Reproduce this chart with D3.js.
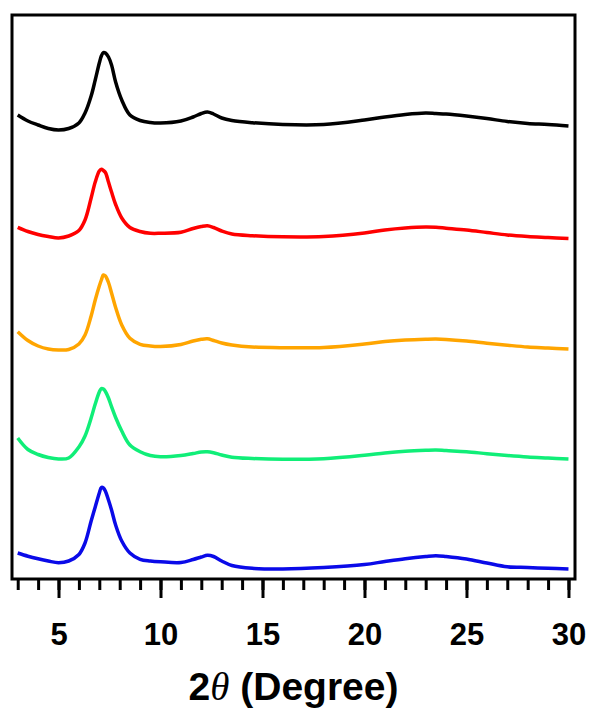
<!DOCTYPE html>
<html lang="en">
<head>
    <meta charset="UTF-8">
    <title>XRD patterns</title>
    <script src="https://d3js.org/d3.v7.min.js"></script>
    <style>
        body { margin: 0; background: #fff; }
        .tick-label { font-family: "Liberation Sans", Arial, sans-serif; font-weight: bold; font-size: 31px; }
        .axis-title { font-family: "Liberation Sans", Arial, sans-serif; font-weight: bold; font-size: 39px; }
    </style>
</head>
<body>
    <svg width="595" height="713"></svg>
    <script>
        // 2theta positions (degrees) shared by all patterns
        const twoTheta = [3, 3.5, 4, 4.5, 5, 5.5, 6, 6.3, 6.6, 6.8, 7.0, 7.1, 7.2, 7.3, 7.45, 7.6, 7.8, 8.1, 8.5, 9, 9.5, 10,
            11, 11.6, 12.0, 12.3, 12.6, 13, 13.5, 14.5, 16, 18, 20, 21, 22, 23, 23.5, 24, 25, 26, 27, 28, 29, 30];

        // intensities (a.u.), top to bottom
        const black = [11, 5, 1, -2.5, -4, -2.5, 3, 13, 30, 46, 63, 70, 73.5, 73, 69, 61, 44, 26, 11, 5.5, 3.5, 3,
            5, 9, 12.5, 14, 12, 8, 5.5, 3.3, 1.5, 1.5, 6, 9, 11.5, 13, 12.5, 12, 10, 7.5, 4.5, 2.5, 1.5, 0];
        const red = [11.2, 7, 4, 2, 0.5, 2.5, 8, 18.5, 40.5, 56.5, 67.5, 69.2, 68, 66, 56.5, 46.5, 34, 20.5, 11, 7, 5.2, 5.2,
            6.2, 10, 12, 12.8, 11, 7.5, 4.5, 2.8, 1.7, 2, 5.5, 8.5, 10.5, 11.5, 11.2, 10.3, 8.5, 6, 3.5, 2, 1, 0];
        const orange = [17.3, 8.5, 3, 0, -1, -0.5, 5, 14, 33, 49, 63, 69, 74, 73, 66.5, 56, 41.5, 24, 10.7, 4.7, 3, 2.5,
            4.5, 8, 9.7, 10.2, 8.5, 6, 4, 2, 1.3, 1.5, 5, 7.5, 9, 9.8, 10, 9.6, 8, 5.8, 3.8, 2, 1, 0];
        const green = [21, 9.5, 4.5, 1.5, 0, 1, 12, 23, 41, 55, 67, 70.5, 70, 67.5, 61, 52.3, 41.5, 28, 14, 7.3, 3.5, 2.3,
            3.5, 5.5, 7, 7.2, 6.2, 4, 1.8, 0.5, -0.3, 0.3, 3.7, 6, 7.7, 8.7, 9, 8.4, 7.3, 5.3, 3.5, 2, 1, 0];
        const blue = [16, 12.8, 10.2, 8, 6.3, 8, 14.5, 26, 48, 62, 76, 81.5, 81, 77.7, 69, 59, 44, 28, 16, 9.7, 8, 7.2,
            6.5, 9.5, 12, 13.7, 12.5, 8, 3.5, 0.7, 0, 1.5, 4.5, 7.5, 10.3, 12.5, 13.3, 12.5, 10, 6, 2.2, 1.5, 0.7, 0];

        const offsets = [453, 340.5, 230, 120, 10];
        const colors = ["#000000", "#ff0000", "#ffa500", "#10ee78", "#0a0ae8"];
        const patterns = [black, red, orange, green, blue];

        const majorTicks = [5, 10, 15, 20, 25, 30];
        const minorTicks = d3.range(3, 31, 1);

        const margin = { top: 15, left: 12 };
        const width = 563;
        const height = 564;

        const svg = d3.select("svg")
            .append("g")
            .attr("transform", `translate(${margin.left}, ${margin.top})`);

        const x = d3.scaleLinear()
            .domain([2.72, 30.32])
            .range([0, width]);

        const y = d3.scaleLinear()
            .domain([0, 564])
            .range([height, 0]);

        const line = d3.line()
            .x(d => x(d[0]))
            .y(d => y(d[1]))
            .curve(d3.curveCatmullRom.alpha(0.5));

        patterns.forEach((vals, i) => {
            const pts = twoTheta.map((t, j) => [t, vals[j] + offsets[i]]);
            svg.append("path")
                .datum(pts)
                .attr("fill", "none")
                .attr("stroke", colors[i])
                .attr("stroke-width", 3.5)
                .attr("stroke-linejoin", "round")
                .attr("d", line);
        });

        // minor ticks
        svg.append("g")
            .attr("transform", `translate(0, ${height})`)
            .call(d3.axisBottom(x).tickValues(minorTicks).tickSize(11).tickFormat(""))
            .call(g => g.select(".domain").remove())
            .selectAll("line").attr("stroke-width", 3);

        // major ticks + labels
        const xAxis = svg.append("g")
            .attr("transform", `translate(0, ${height})`)
            .call(d3.axisBottom(x).tickValues(majorTicks).tickSize(19).tickPadding(25).tickFormat(d3.format("d")));
        xAxis.select(".domain").remove();
        xAxis.selectAll("line").attr("stroke-width", 3);
        xAxis.selectAll("text")
            .attr("class", "tick-label")
            .attr("fill", "#000");
        xAxis.attr("font-size", null).attr("font-family", null);

        // frame
        svg.append("rect")
            .attr("width", width)
            .attr("height", height)
            .attr("fill", "none")
            .attr("stroke", "#000")
            .attr("stroke-width", 3);

        const title = svg.append("text")
            .attr("class", "axis-title")
            .attr("x", width / 2)
            .attr("y", 685)
            .attr("text-anchor", "middle");
        title.append("tspan").text("2");
        title.append("tspan")
            .attr("font-family", "'Liberation Serif', serif")
            .attr("font-style", "italic")
            .attr("font-weight", "normal")
            .text("θ");
        title.append("tspan").text(" (Degree)");
    </script>
</body>
</html>
